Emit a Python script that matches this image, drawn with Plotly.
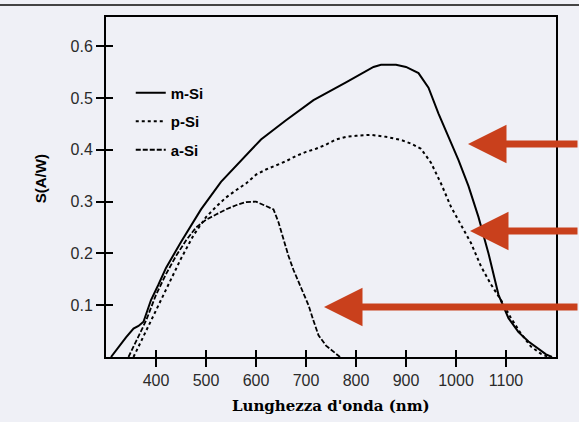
import plotly.graph_objects as go

# ---- data ----
msi_nm = [310, 325, 340, 355, 365, 375, 390, 405, 420, 450, 490, 530, 570, 610, 660, 715, 780, 835, 850, 880, 900, 925, 945, 965, 985, 1005, 1025, 1045, 1065, 1085, 1105, 1125, 1145, 1165, 1180, 1192]
msi_s = [0.0, 0.02, 0.038, 0.055, 0.06, 0.068, 0.11, 0.14, 0.172, 0.222, 0.285, 0.338, 0.38, 0.42, 0.457, 0.496, 0.53, 0.56, 0.564, 0.564, 0.56, 0.548, 0.52, 0.47, 0.425, 0.38, 0.33, 0.27, 0.2, 0.12, 0.075, 0.048, 0.03, 0.015, 0.005, 0.0]

psi_nm = [355, 375, 400, 425, 450, 475, 500, 520, 540, 560, 580, 600, 620, 640, 660, 680, 700, 720, 740, 760, 780, 800, 830, 860, 890, 910, 930, 950, 970, 990, 1010, 1030, 1050, 1070, 1090, 1110, 1130, 1150, 1170, 1185]
psi_s = [0.0, 0.04, 0.09, 0.14, 0.19, 0.235, 0.27, 0.29, 0.308, 0.322, 0.335, 0.352, 0.362, 0.37, 0.378, 0.388, 0.396, 0.402, 0.41, 0.42, 0.425, 0.427, 0.429, 0.425, 0.419, 0.412, 0.402, 0.375, 0.335, 0.29, 0.255, 0.22, 0.175, 0.14, 0.11, 0.075, 0.045, 0.02, 0.006, 0.0]

asi_nm = [345, 360, 380, 400, 420, 440, 460, 480, 500, 520, 540, 560, 580, 600, 620, 635, 645, 655, 665, 675, 685, 695, 705, 715, 725, 740, 755, 768]
asi_s = [0.0, 0.03, 0.07, 0.12, 0.16, 0.195, 0.225, 0.25, 0.265, 0.275, 0.285, 0.293, 0.299, 0.3, 0.292, 0.285, 0.26, 0.225, 0.195, 0.168, 0.145, 0.124, 0.1, 0.07, 0.042, 0.022, 0.01, 0.0]

x_ticks = [400, 500, 600, 700, 800, 900, 1000, 1100]
y_ticks = [0.1, 0.2, 0.3, 0.4, 0.5, 0.6]
y_tick_text = ["0.1", "0.2", "0.3", "0.4", "0.5", "0.6"]
series_names = ["m-Si", "p-Si", "a-Si"]

BG = "#eff0f6"
ARROW = "#c9401c"

fig = go.Figure()
fig.add_trace(go.Scatter(x=msi_nm, y=msi_s, mode="lines", name=series_names[0],
                         legendgroup="m", line=dict(color="black", width=2)))
fig.add_trace(go.Scatter(x=psi_nm, y=psi_s, mode="lines", name=series_names[1],
                         legendgroup="p", line=dict(color="black", width=2, dash="dot")))
fig.add_trace(go.Scatter(x=asi_nm, y=asi_s, mode="lines", name=series_names[2],
                         legendgroup="a", line=dict(color="black", width=1.8, dash="5px,2px")))
# invisible trace to carry the overlay axes (inside tick marks)
fig.add_trace(go.Scatter(x=msi_nm, y=msi_s, mode="lines", xaxis="x2", yaxis="y2",
                         line=dict(width=0), opacity=0, showlegend=False, hoverinfo="skip"))

tickfont = dict(family="Liberation Sans, Arial, sans-serif", size=16, color="#2a2a2a")

fig.update_layout(
    width=579, height=422,
    margin=dict(l=106, r=23, t=17, b=65),
    paper_bgcolor=BG, plot_bgcolor=BG,
    showlegend=True,
    legend=dict(x=0.055, y=0.825, xanchor="left", yanchor="top",
                bgcolor="rgba(0,0,0,0)", traceorder="grouped", tracegroupgap=6,
                font=dict(family="Liberation Sans, Arial, sans-serif", size=15,
                          color="black", weight="bold"),
                itemwidth=30),
    xaxis=dict(range=[300, 1200], tickvals=x_ticks, ticks="outside", ticklen=8,
               tickwidth=1.5, tickcolor="black", showgrid=False, zeroline=False,
               showline=True, linecolor="black", linewidth=2, mirror=True,
               tickfont=tickfont),
    yaxis=dict(range=[0, 0.6564], tickvals=y_ticks, ticktext=y_tick_text, ticks="outside",
               ticklen=8, tickwidth=1.5, tickcolor="black", showgrid=False, zeroline=False,
               showline=True, linecolor="black", linewidth=2, mirror=True,
               tickfont=tickfont),
    xaxis2=dict(overlaying="x", matches="x", anchor="y2", side="bottom", tickvals=x_ticks,
                ticks="inside", ticklen=7, tickwidth=1.5, tickcolor="black",
                showticklabels=False, showgrid=False, zeroline=False, showline=False),
    yaxis2=dict(overlaying="y", matches="y", anchor="x2", side="left", tickvals=y_ticks,
                ticks="inside", ticklen=7, tickwidth=1.5, tickcolor="black",
                showticklabels=False, showgrid=False, zeroline=False, showline=False),
)

# axis titles
fig.add_annotation(text="<b>Lunghezza d'onda (nm)</b>", xref="paper", yref="paper",
                   x=0.5, y=-0.145, xanchor="center", yanchor="middle", showarrow=False,
                   font=dict(family="DejaVu Serif, serif", size=15, color="black"))
fig.add_annotation(text="<b>S(A/W)</b>", xref="paper", yref="paper",
                   x=-0.145, y=0.525, xanchor="center", yanchor="middle", showarrow=False,
                   textangle=-90,
                   font=dict(family="Liberation Sans, Arial, sans-serif", size=15, color="black"))

# red arrows (tip position in paper coords, tail off to the right edge)
arrow_tips = [((468 - 106) / 450, (357 - 144) / 340),
              ((470 - 106) / 450, (357 - 231) / 340),
              ((324 - 106) / 450, (357 - 307) / 340)]
for (ax_, ay_) in arrow_tips:
    fig.add_annotation(x=ax_, y=ay_, xref="paper", yref="paper", text="",
                       showarrow=True, arrowhead=2, arrowsize=1.1, arrowwidth=7,
                       arrowcolor=ARROW, ax=700, ay=0, standoff=0)

# page rule at the top
fig.add_shape(type="line", xref="paper", yref="paper", x0=-0.3, x1=1.1,
              y0=(357 - 5) / 340, y1=(357 - 5) / 340,
              line=dict(color="#444", width=2))

fig.write_html("out.html", config={"displayModeBar": False},
               post_script="document.body.style.margin='0';document.body.style.overflow='hidden';")
